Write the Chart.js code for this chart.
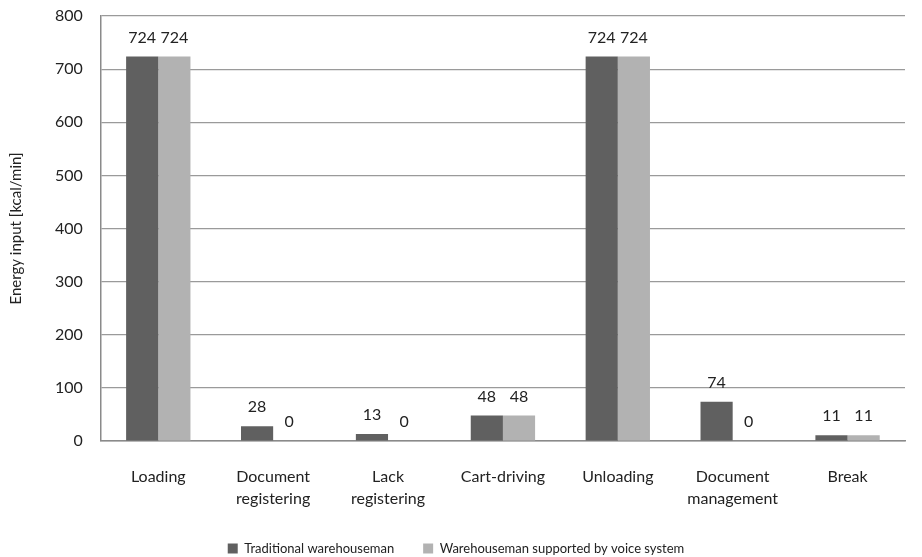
<!DOCTYPE html>
<html>
<head>
<meta charset="utf-8">
<script src="https://cdn.jsdelivr.net/npm/chart.js@4/dist/chart.umd.min.js"></script>
<style>
  html, body { margin: 0; padding: 0; background: #fff; }
  #wrap { width: 922px; height: 557px; }
</style>
</head>
<body>
<div id="wrap"><canvas id="chart"></canvas></div>
<script>
const categories = [
    'Loading',
    ['Document', 'registering'],
    ['Lack', 'registering'],
    'Cart-driving',
    'Unloading',
    ['Document', 'management'],
    'Break'
];
const traditional = [724, 28, 13, 48, 724, 74, 11];
const voiceSystem = [724, 0, 0, 48, 724, 0, 11];
const seriesNames = ['Traditional warehouseman', 'Warehouseman supported by voice system'];

const fontFamily = 'Lato, "Open Sans", sans-serif';

// draw value above each bar
const valueLabels = {
    id: 'valueLabels',
    afterDatasetsDraw(chart) {
        const ctx = chart.ctx;
        ctx.save();
        ctx.font = '16px ' + fontFamily;
        ctx.fillStyle = '#222';
        ctx.textAlign = 'center';
        ctx.textBaseline = 'bottom';
        chart.data.datasets.forEach((ds, i) => {
            chart.getDatasetMeta(i).data.forEach((bar, j) => {
                ctx.fillText(ds.data[j], bar.x, bar.y - 11);
            });
        });
        ctx.restore();
    }
};

// keep the legend box short even with wide item spacing
const legendHeight = {
    id: 'legendHeight',
    afterInit(chart) {
        const lg = chart.legend;
        const fit = lg.fit;
        lg.fit = function () {
            fit.call(this);
            this.height = 44;
        };
    }
};

const ctx = document.getElementById('chart').getContext('2d');
new Chart(ctx, {
    type: 'bar',
    data: {
        labels: categories,
        datasets: [
            {
                label: seriesNames[0],
                data: traditional,
                backgroundColor: '#606060',
                categoryPercentage: 0.56,
                barPercentage: 1.0
            },
            {
                label: seriesNames[1],
                data: voiceSystem,
                backgroundColor: '#b2b2b2',
                categoryPercentage: 0.56,
                barPercentage: 1.0
            }
        ]
    },
    options: {
        responsive: true,
        maintainAspectRatio: false,
        animation: false,
        layout: {
            padding: { left: 7, right: 17, top: 16, bottom: 0 }
        },
        scales: {
            x: {
                grid: { display: false, drawTicks: false },
                border: { color: '#8a8a8a', width: 1.5 },
                ticks: {
                    color: '#222',
                    padding: 25,
                    font: { family: fontFamily, size: 16, lineHeight: 1.35 },
                    maxRotation: 0,
                    autoSkip: false
                },
                afterFit(scale) {
                    scale.height = 72;
                    scale.paddingTop = 0;
                }
            },
            y: {
                min: 0,
                max: 800,
                grid: { color: '#9a9a9a', lineWidth: 1.2, drawTicks: false },
                border: { color: '#8a8a8a', width: 1.5 },
                ticks: {
                    stepSize: 100,
                    color: '#222',
                    padding: 18,
                    font: { family: fontFamily, size: 16 }
                },
                title: {
                    display: true,
                    text: 'Energy input [kcal/min]',
                    color: '#222',
                    font: { family: fontFamily, size: 15 },
                    padding: { top: 0, bottom: 12 }
                },
                afterFit(scale) {
                    scale.paddingTop = 0;
                    scale.paddingBottom = 0;
                }
            }
        },
        plugins: {
            legend: {
                position: 'bottom',
                labels: {
                    boxWidth: 10,
                    boxHeight: 10,
                    padding: 29,
                    color: '#222',
                    font: { family: fontFamily, size: 13 }
                }
            },
            tooltip: { enabled: false }
        }
    },
    plugins: [valueLabels, legendHeight]
});
</script>
</body>
</html>
